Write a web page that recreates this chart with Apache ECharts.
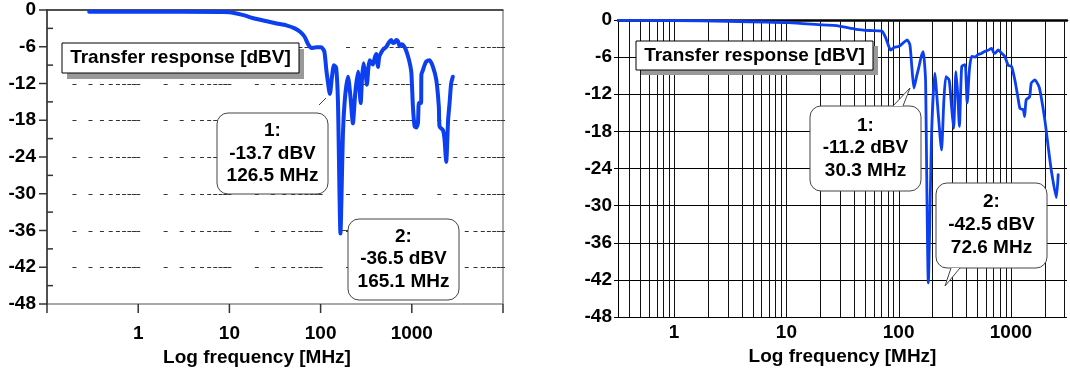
<!DOCTYPE html>
<html>
<head>
<meta charset="utf-8">
<script src="https://cdn.jsdelivr.net/npm/echarts@6/dist/echarts.min.js"></script>
<style>
html,body{margin:0;padding:0;background:#fff;}
#c{width:1070px;height:373px;}
</style>
</head>
<body>
<div id="c"></div>
<script>
// ---- Data ----
const leftFreq = [0.29,1,3,10,14,18,25,33,42,52,60,67,73,79,90,102,110,116,126.5,133,140,148,155,165.1,176,186,200,212,226,240,257,266,275,285,296,312,322,334,345,360,375,392,408,418,425,440,460,482,526,560,596,620,648,675,705,735,767,799,850,910,960,990,1029,1074,1120,1167,1196,1262,1275,1325,1380,1442,1567,1703,1855,1980,2015,2190,2280,2385,2500,2594,2700,2818];
const leftDbv  = [-0.3,-0.3,-0.3,-0.35,-0.8,-1.3,-1.8,-2.2,-2.5,-3.0,-3.6,-4.4,-5.6,-6.2,-6.1,-6.1,-6.8,-10,-13.7,-11,-9.0,-9.4,-15,-36.5,-20,-14,-10.9,-14,-18.5,-13.5,-10.1,-12.5,-15.2,-11,-8.7,-10.5,-12.2,-9.5,-8.2,-8.6,-8.9,-7.8,-7.2,-8.5,-9.3,-7.6,-7.0,-6.5,-6.0,-5.3,-4.9,-5.4,-5.3,-4.9,-5.1,-5.9,-5.6,-5.7,-6.3,-7.6,-9.0,-10.3,-15.8,-19.0,-19.2,-18.5,-15.2,-15.2,-10.5,-9.8,-9.0,-8.4,-8.2,-9.25,-11.4,-15.8,-19.0,-19.6,-21,-24.8,-18,-15.2,-12,-10.9];

const rightFreq = [0.32,1,3,10.6,21,28,42,55,71,76,80,85,92,100,110,119,126,131,137,145,152,160,166,171,174,184,197,210,225,241,253,264,282,296,309,324,336,348,365,391,400,408,428,448,480,508,545,583,625,674,700,721,772,820,883,945,1013,1085,1153,1205,1289,1325,1369,1470,1519,1634,1790,2005,2168,2300,2540,2640];
const rightDbv  = [-0.05,-0.1,-0.2,-0.43,-0.8,-0.9,-1.5,-1.7,-1.8,-2.7,-3.8,-4.85,-4.4,-4.3,-3.7,-3.2,-4.0,-7.5,-11.0,-9.0,-7.5,-5.7,-5.1,-7.5,-10.2,-42.5,-18,-8.6,-15,-21,-13,-9.15,-9.7,-14,-17.5,-8.35,-12,-17.2,-7.5,-7.2,-10,-13.4,-7.8,-5.9,-6.0,-5.6,-5.4,-5.1,-4.9,-4.6,-5.2,-5.4,-4.85,-5.3,-5.9,-7.3,-7.5,-9.7,-12.4,-14.3,-14.5,-15.6,-12.9,-12.4,-10.2,-9.7,-10.9,-16.1,-21,-24.5,-28.7,-25];

const xTickLabels = ['1','10','100','1000'];
const xTickValues = [0.1,1,10,100,1000,10000];
const yTickValues = [0,-6,-12,-18,-24,-30,-36,-42,-48];
const yMinorTickValues = [-3,-9,-15,-21,-27,-33,-39,-45];
const gridRows = [-6,-12,-18,-24,-30,-36,-42];
const mantissas = [2,3,4,5,6,7,8,9,10];
const leftDecades = [0.1,1,10,100,1000];
const rightDecades = [0.1,1,10,100,1000];

const annotationTexts = {
  title: 'Transfer response [dBV]',
  left1: ['1:','-13.7 dBV','126.5 MHz'],
  left2: ['2:','-36.5 dBV','165.1 MHz'],
  right1: ['1:','-11.2 dBV','30.3 MHz'],
  right2: ['2:','-42.5 dBV','72.6 MHz']
};

// ---- Derived structures ----
const leftData = leftFreq.map((f,i)=>[f,leftDbv[i]]);
const rightData = rightFreq.map((f,i)=>[f,rightDbv[i]]);
const dashData = [];
leftDecades.forEach(d=>mantissas.forEach(m=>gridRows.forEach(r=>dashData.push([+(d*m).toPrecision(6), r]))));
const rMin = Math.pow(10,-0.5), rMax = Math.pow(10,3.5);
const vLineData = [];
rightDecades.forEach(d=>mantissas.forEach(m=>{const f=+(d*m).toPrecision(6); if(f>rMin && f<rMax && !vLineData.some(v=>v[0]===f)) vLineData.push([f,0]);}));
// tick marks for the left panel: [x, y, kind]  kind 0 = x tick, 1 = y major, 2 = y minor
const tickData = [];
xTickValues.forEach(f=>tickData.push([f,-48,0]));
yTickValues.forEach(v=>tickData.push([0.1,v,1]));
yMinorTickValues.forEach(v=>tickData.push([0.1,v,2]));

const FONT = '"Liberation Sans", Arial, sans-serif';
const BLUE = '#0b3ff0';

function tickFmt(v){
  const r = Math.round(v);
  if (Math.abs(v-r) > 1e-6*Math.max(1,r)) return '';
  const s = String(r);
  return xTickLabels.indexOf(s) >= 0 ? s : '';
}
function yFmt(v){ return yTickValues.indexOf(Math.round(v))>=0 ? String(Math.round(v)) : ''; }

const lblStyle = {fontFamily: FONT, fontWeight:'bold', fontSize:19, color:'#000'};

function txt(x,y,t){
  return {type:'text', z:102, style:{text:t, x:x, y:y, textAlign:'center', textVerticalAlign:'middle', align:'center', verticalAlign:'middle', font:'bold 19px "Liberation Sans", Arial, sans-serif', fill:'#000'}};
}
function titleBox(x,y,w,h,dx,dy,tx,ty){
  return [
    {type:'rect', z:100, shape:{x:x+dx,y:y+dy,width:w,height:h}, style:{fill:'#999',stroke:null}},
    {type:'rect', z:101, shape:{x:x,y:y,width:w,height:h}, style:{fill:'#fff',stroke:'#000',lineWidth:1}},
    txt(tx,ty,annotationTexts.title)
  ];
}
function bubble(x,y,w,h,lines,cx,ys){
  const out=[{type:'rect', z:100, shape:{x:x,y:y,width:w,height:h,r:11}, style:{fill:'#fff',stroke:'#444',lineWidth:1}}];
  lines.forEach((l,i)=>out.push(txt(cx,ys[i],l)));
  return out;
}
function tail(b1,b2,tip){
  return [
    {type:'polygon', z:101, shape:{points:[b1,tip,b2]}, style:{fill:'#fff',stroke:null}},
    {type:'polyline', z:101, shape:{points:[b1,tip,b2]}, style:{fill:null,stroke:'#444',lineWidth:1}}
  ];
}

const graphics = [].concat(
  titleBox(62,43,237,30,5,6,180.5,58),
  titleBox(636,41,237,29,5,5,754.5,55.5),
  bubble(217,113,111,81,annotationTexts.left1,272.5,[131,153.5,175.5]),
  [{type:'line', z:101, shape:{x1:319,y1:105,x2:326,y2:98}, style:{stroke:'#444',lineWidth:1}}],
  bubble(348,219,111,81,annotationTexts.left2,403.5,[237,259,281.5]),
  [{type:'line', z:101, shape:{x1:341,y1:230.5,x2:348,y2:230.5}, style:{stroke:'#444',lineWidth:1}}],
  bubble(810,106,111,85,annotationTexts.right1,865.5,[125.5,148,170.5]),
  tail([893,106],[903,106],[910,88]),
  bubble(936,183,111,85,annotationTexts.right2,991.5,[202,225,248]),
  tail([951,268],[960,268],[945,286])
);

const chart = echarts.init(document.getElementById('c'), null, {renderer:'canvas'});
chart.setOption({
  animation:false,
  backgroundColor:'#fff',
  grid:[
    {left:47, top:10, width:456, height:294, show:true, borderColor:'#555', borderWidth:1, backgroundColor:'transparent'},
    {left:618, top:20, width:451, height:297, show:false}
  ],
  xAxis:[
    {gridIndex:0, type:'log', logBase:10, min:0.1, max:10000, position:'bottom',
     axisLine:{show:true, lineStyle:{color:'#333', width:1.5}},
     axisTick:{show:false}, minorTick:{show:false}, splitLine:{show:false},
     axisLabel:Object.assign({margin:20, formatter:tickFmt, showMinLabel:true, showMaxLabel:true}, lblStyle),
     name:'Log frequency [MHz]', nameLocation:'middle', nameGap:43,
     nameTextStyle:Object.assign({padding:[0,36,0,0]}, lblStyle)},
    {gridIndex:1, type:'log', logBase:10, min:rMin, max:rMax, position:'bottom',
     axisLine:{show:true, lineStyle:{color:'#000', width:1}},
     axisTick:{show:false}, minorTick:{show:false}, splitLine:{show:false},
     axisLabel:Object.assign({margin:6, formatter:tickFmt}, lblStyle),
     name:'Log frequency [MHz]', nameLocation:'middle', nameGap:30, nameTextStyle:lblStyle},
    {gridIndex:1, type:'log', logBase:10, min:rMin, max:rMax, position:'top',
     axisLine:{show:true, lineStyle:{color:'#000', width:2.5}},
     axisTick:{show:false}, axisLabel:{show:false}, splitLine:{show:false}}
  ],
  yAxis:[
    {gridIndex:0, type:'value', min:-48, max:0, interval:6, position:'left',
     axisLine:{show:true, lineStyle:{color:'#333', width:1.5}},
     axisTick:{show:false},
     splitLine:{show:false},
     axisLabel:Object.assign({margin:11, formatter:yFmt}, lblStyle)},
    {gridIndex:1, type:'value', min:-48, max:0, interval:6, position:'left',
     axisLine:{show:true, lineStyle:{color:'#000', width:1}},
     axisTick:{show:true, length:4, lineStyle:{color:'#000'}},
     splitLine:{show:true, lineStyle:{color:'#000', width:1}},
     axisLabel:Object.assign({margin:6, formatter:yFmt}, lblStyle)}
  ],
  series:[
    {type:'custom', xAxisIndex:0, yAxisIndex:0, data:dashData, silent:true, z:1,
     renderItem:function(params, api){
       const p = api.coord([api.value(0), api.value(1)]);
       const y = Math.round(p[1])+0.5;
       return {type:'line', shape:{x1:p[0]-2, y1:y, x2:p[0]+2, y2:y}, style:{stroke:'#333', lineWidth:1}};
     }},
    {type:'custom', xAxisIndex:0, yAxisIndex:0, data:tickData, silent:true, z:3, clip:false,
     renderItem:function(params, api){
       const p = api.coord([api.value(0), api.value(1)]);
       const k = api.value(2);
       let shape;
       if (k === 0) shape = {x1:p[0], y1:p[1], x2:p[0], y2:p[1]+9};
       else if (k === 1) shape = {x1:p[0]-8, y1:p[1], x2:p[0], y2:p[1]};
       else shape = {x1:p[0], y1:p[1], x2:p[0]+6, y2:p[1]};
       return {type:'line', shape:shape, style:{stroke:'#333', lineWidth:1.5}};
     }},
    {type:'custom', xAxisIndex:1, yAxisIndex:1, data:vLineData, silent:true, z:1,
     renderItem:function(params, api){
       const a = api.coord([api.value(0), 0]);
       const b = api.coord([api.value(0), -48]);
       const x = Math.round(a[0])+0.5;
       return {type:'line', shape:{x1:x, y1:a[1], x2:x, y2:b[1]}, style:{stroke:'#111', lineWidth:1}};
     }},
    {type:'line', xAxisIndex:0, yAxisIndex:0, data:leftData, showSymbol:false, symbol:'none', smooth:0.2, z:5,
     lineStyle:{color:BLUE, width:4, cap:'round', join:'round'}},
    {type:'line', xAxisIndex:1, yAxisIndex:1, data:rightData, showSymbol:false, symbol:'none', smooth:0.2, z:5,
     lineStyle:{color:BLUE, width:2.8, cap:'round', join:'round'}}
  ],
  graphic:graphics
});
</script>
</body>
</html>
